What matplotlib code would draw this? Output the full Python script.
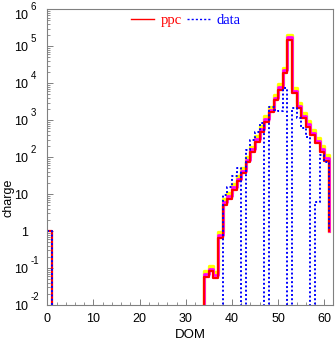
import numpy as np
import matplotlib
matplotlib.use('Agg')
import matplotlib.pyplot as plt
from matplotlib.lines import Line2D
from matplotlib import transforms
from matplotlib.ticker import LogLocator, MultipleLocator, NullFormatter

plt.rcParams['font.family'] = 'Liberation Sans'

# DOM number (left bin edge), one bin per DOM, last entry closes the step
dom = np.arange(0, 62)

# ppc simulation (red), DOM 0..61
ppc = [1] + [0] * 33 + [0.059, 0.081, 0.054, 0.65, 5.1, 7.4, 13, 22, 37, 72,
                        138, 263, 490, 910, 1630, 3500, 6600, 19000, 148000,
                        5350, 2090, 1120, 660, 395, 236, 141, 79] + [1]
# upper bands drawn behind ppc (yellow, magenta)
ppc_hi = [0] * 34 + [0.085, 0.115, 0.078, 0.92, 7.2, 10.5, 18.5, 31, 52, 101,
                     194, 370, 690, 1280, 2300, 4900, 9300, 26500, 205000,
                     7500, 2950, 1570, 930, 555, 330, 198, 111] + [1]
ppc_mid = [0] * 34 + [0.069, 0.095, 0.063, 0.76, 6.0, 8.7, 15.3, 26, 43, 85,
                      162, 308, 575, 1070, 1910, 4100, 7750, 22300, 173000,
                      6250, 2450, 1310, 775, 462, 276, 165, 92] + [1]
# measured data (blue dotted)
data = [1] + [0] * 37 + [9.4, 15.5, 30, 51, 0, 155, 290, 490, 830, 0,
                         2300, 1860, 1760, 7400, 0, 2130, 1170, 615, 355, 0,
                         6.2, 115, 74] + [1]

fig = plt.figure(figsize=(3.35, 3.42), dpi=100)
ax = fig.add_axes([0.1412, 0.1082, 0.853, 0.8646])
ax.set_yscale('log', nonpositive='clip')

ax.step(dom, ppc_hi, where='post', color='#ffff00', lw=2.4)
ax.step(dom, ppc_mid, where='post', color='#ff00ff', lw=2.0)
ax.step(dom, ppc, where='post', color='#ff0000', lw=1.6)
ax.step(dom, data, where='post', color='#0000ff', lw=1.4, ls=(0, (1, 1.2)))

ax.set_xlim(0, 61.9)
ax.set_ylim(1e-2, 1e6)

ax.xaxis.set_major_locator(MultipleLocator(10))
ax.xaxis.set_minor_locator(MultipleLocator(2))
ax.yaxis.set_major_locator(LogLocator(base=10, numticks=20))
ax.yaxis.set_minor_locator(LogLocator(base=10, subs=np.arange(2, 10), numticks=100))
ax.yaxis.set_minor_formatter(NullFormatter())
ax.tick_params(which='both', direction='in', color='#808080', top=False, right=False)
ax.tick_params(which='major', length=4.5, width=0.7)
ax.tick_params(which='minor', length=2.5, width=0.6)
ax.tick_params(axis='x', labelsize=9, pad=6)
ax.tick_params(axis='y', labelleft=False)
for s in ax.spines.values():
    s.set_color('#808080')
    s.set_linewidth(0.8)

# y tick labels in "10 with raised exponent" style
trans = transforms.blended_transform_factory(ax.transAxes, ax.transData)
for e in range(-2, 7):
    shift = -3.5 if e == 6 else 0.0   # top label pushed down to stay inside
    down = transforms.ScaledTranslation(0, (-1.2 + shift) / 72, fig.dpi_scale_trans)
    up = transforms.ScaledTranslation(0, (5.4 + shift) / 72, fig.dpi_scale_trans)
    base = '1' if e == 0 else '10'
    ax.text(-0.0665, 10.0 ** e, base, ha='right', va='center', fontsize=9,
            transform=trans + down)
    if e not in (0, 1):
        ax.text(-0.0588, 10.0 ** e, str(e), ha='left', va='center', fontsize=7,
                transform=trans + up)

ax.set_xlabel('DOM', fontsize=9.5, labelpad=3)
fig.text(0.026, 0.421, 'charge', rotation=90, ha='center', va='center', fontsize=9)

h1 = Line2D([], [], color='#ff0000', lw=1.0)
h2 = Line2D([], [], color='#0000ff', lw=1.0, ls=(0, (1.5, 1.5)))
ax.legend([h1, h2], ['ppc', 'data'], loc='center', bbox_to_anchor=(0.485, 0.962),
          ncol=2, frameon=False, prop={'family': 'Liberation Serif', 'size': 10.5},
          handlelength=1.6, handletextpad=0.45, columnspacing=0.35,
          labelcolor=['#ff0000', '#0000ff'])

fig.savefig('out.png', dpi=100)
